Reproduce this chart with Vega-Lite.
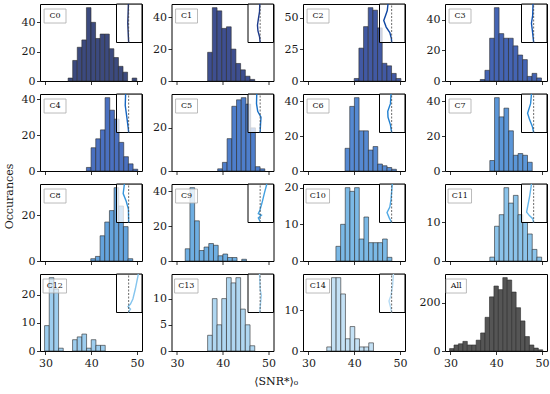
{
"$schema": "https://vega.github.io/schema/vega-lite/v6.json",
"padding": {"left": 3, "top": 0, "right": 2, "bottom": 2},
"title": {"text": "⟨SNR*⟩₀", "orient": "bottom", "anchor": "middle", "font": "DejaVu Serif", "fontSize": 11, "fontWeight": "normal", "color": "#111111", "offset": 7},
"datasets": {
"h": [
{"p":"C0","a":34.95,"b":35.95,"n":2},{"p":"C0","a":35.95,"b":36.95,"n":14},{"p":"C0","a":36.95,"b":37.95,"n":23},{"p":"C0","a":37.95,"b":38.95,"n":28},{"p":"C0","a":38.95,"b":39.95,"n":50},{"p":"C0","a":39.95,"b":40.95,"n":40},{"p":"C0","a":40.95,"b":41.95,"n":29},{"p":"C0","a":41.95,"b":42.95,"n":32},{"p":"C0","a":42.95,"b":43.95,"n":32},{"p":"C0","a":43.95,"b":44.95,"n":22},{"p":"C0","a":44.95,"b":45.95,"n":16},{"p":"C0","a":45.95,"b":46.95,"n":10},{"p":"C0","a":46.95,"b":47.95,"n":6},{"p":"C0","a":48.95,"b":49.95,"n":2},
{"p":"C1","a":36.7,"b":37.73,"n":18},{"p":"C1","a":37.73,"b":38.76,"n":46},{"p":"C1","a":38.76,"b":39.79,"n":44},{"p":"C1","a":39.79,"b":40.82,"n":33},{"p":"C1","a":40.82,"b":41.85,"n":34},{"p":"C1","a":41.85,"b":42.88,"n":20},{"p":"C1","a":42.88,"b":43.91,"n":11},{"p":"C1","a":43.91,"b":44.94,"n":7},{"p":"C1","a":44.94,"b":45.97,"n":3},{"p":"C1","a":45.97,"b":47.0,"n":1},
{"p":"C2","a":40.0,"b":41.02,"n":2},{"p":"C2","a":41.02,"b":42.04,"n":26},{"p":"C2","a":42.04,"b":43.06,"n":43},{"p":"C2","a":43.06,"b":44.08,"n":58},{"p":"C2","a":44.08,"b":45.1,"n":56},{"p":"C2","a":45.1,"b":46.12,"n":42},{"p":"C2","a":46.12,"b":47.14,"n":14},{"p":"C2","a":47.14,"b":48.16,"n":12},{"p":"C2","a":48.16,"b":49.18,"n":6},{"p":"C2","a":49.18,"b":50.2,"n":2},
{"p":"C3","a":36.5,"b":37.53,"n":1},{"p":"C3","a":37.53,"b":38.56,"n":7},{"p":"C3","a":38.56,"b":39.59,"n":28},{"p":"C3","a":39.59,"b":40.62,"n":48},{"p":"C3","a":40.62,"b":41.65,"n":31},{"p":"C3","a":41.65,"b":42.68,"n":28},{"p":"C3","a":42.68,"b":43.71,"n":28},{"p":"C3","a":43.71,"b":44.74,"n":23},{"p":"C3","a":44.74,"b":45.77,"n":17},{"p":"C3","a":45.77,"b":46.8,"n":14},{"p":"C3","a":46.8,"b":47.83,"n":3},{"p":"C3","a":47.83,"b":48.86,"n":5},{"p":"C3","a":48.86,"b":49.89,"n":2},
{"p":"C4","a":38.95,"b":39.97,"n":2},{"p":"C4","a":39.97,"b":40.99,"n":13},{"p":"C4","a":40.99,"b":42.01,"n":18},{"p":"C4","a":42.01,"b":43.03,"n":23},{"p":"C4","a":43.03,"b":44.05,"n":41},{"p":"C4","a":44.05,"b":45.07,"n":34},{"p":"C4","a":45.07,"b":46.09,"n":29},{"p":"C4","a":46.09,"b":47.11,"n":16},{"p":"C4","a":47.11,"b":48.13,"n":8},{"p":"C4","a":48.13,"b":49.15,"n":4},{"p":"C4","a":49.15,"b":50.17,"n":1},
{"p":"C5","a":38.9,"b":39.93,"n":1},{"p":"C5","a":39.93,"b":40.96,"n":4},{"p":"C5","a":40.96,"b":41.99,"n":15},{"p":"C5","a":41.99,"b":43.02,"n":30},{"p":"C5","a":43.02,"b":44.05,"n":33},{"p":"C5","a":44.05,"b":45.08,"n":34},{"p":"C5","a":45.08,"b":46.11,"n":31},{"p":"C5","a":46.11,"b":47.14,"n":20},{"p":"C5","a":47.14,"b":48.17,"n":2},{"p":"C5","a":48.17,"b":49.2,"n":1},
{"p":"C6","a":38.0,"b":39.02,"n":13},{"p":"C6","a":39.02,"b":40.04,"n":37},{"p":"C6","a":40.04,"b":41.06,"n":42},{"p":"C6","a":41.06,"b":42.08,"n":23},{"p":"C6","a":42.08,"b":43.1,"n":23},{"p":"C6","a":43.1,"b":44.12,"n":12},{"p":"C6","a":44.12,"b":45.14,"n":14},{"p":"C6","a":45.14,"b":46.16,"n":4},{"p":"C6","a":46.16,"b":47.18,"n":3},{"p":"C6","a":47.18,"b":48.2,"n":2},{"p":"C6","a":48.2,"b":49.22,"n":1},
{"p":"C7","a":38.6,"b":39.63,"n":6},{"p":"C7","a":39.63,"b":40.66,"n":42},{"p":"C7","a":40.66,"b":41.69,"n":31},{"p":"C7","a":41.69,"b":42.72,"n":36},{"p":"C7","a":42.72,"b":43.75,"n":23},{"p":"C7","a":43.75,"b":44.78,"n":9},{"p":"C7","a":44.78,"b":45.81,"n":10},{"p":"C7","a":45.81,"b":46.84,"n":9},{"p":"C7","a":46.84,"b":47.87,"n":5},
{"p":"C8","a":39.9,"b":40.92,"n":1},{"p":"C8","a":40.92,"b":41.94,"n":2},{"p":"C8","a":41.94,"b":42.96,"n":11},{"p":"C8","a":42.96,"b":43.98,"n":17},{"p":"C8","a":43.98,"b":45.0,"n":22},{"p":"C8","a":45.0,"b":46.02,"n":32},{"p":"C8","a":46.02,"b":47.04,"n":24},{"p":"C8","a":47.04,"b":48.06,"n":15},{"p":"C8","a":48.06,"b":49.08,"n":1},
{"p":"C9","a":31.8,"b":32.83,"n":7},{"p":"C9","a":32.83,"b":33.86,"n":42},{"p":"C9","a":33.86,"b":34.89,"n":23},{"p":"C9","a":34.89,"b":35.92,"n":6},{"p":"C9","a":35.92,"b":36.95,"n":8},{"p":"C9","a":36.95,"b":37.98,"n":10},{"p":"C9","a":37.98,"b":39.01,"n":9},{"p":"C9","a":39.01,"b":40.04,"n":3},{"p":"C9","a":40.04,"b":41.07,"n":4},{"p":"C9","a":41.07,"b":42.1,"n":2},{"p":"C9","a":42.1,"b":43.13,"n":2},{"p":"C9","a":44.16,"b":45.19,"n":1},
{"p":"C10","a":36.0,"b":37.02,"n":4},{"p":"C10","a":37.02,"b":38.04,"n":10},{"p":"C10","a":38.04,"b":39.06,"n":20},{"p":"C10","a":39.06,"b":40.08,"n":19},{"p":"C10","a":40.08,"b":41.1,"n":20},{"p":"C10","a":41.1,"b":42.12,"n":6},{"p":"C10","a":42.12,"b":43.14,"n":12},{"p":"C10","a":43.14,"b":44.16,"n":5},{"p":"C10","a":44.16,"b":45.18,"n":5},{"p":"C10","a":45.18,"b":46.2,"n":5},{"p":"C10","a":46.2,"b":47.22,"n":6},{"p":"C10","a":47.22,"b":48.24,"n":1},
{"p":"C11","a":38.6,"b":39.63,"n":1},{"p":"C11","a":39.63,"b":40.66,"n":9},{"p":"C11","a":40.66,"b":41.69,"n":12},{"p":"C11","a":41.69,"b":42.72,"n":19},{"p":"C11","a":42.72,"b":43.75,"n":15},{"p":"C11","a":43.75,"b":44.78,"n":17},{"p":"C11","a":44.78,"b":45.81,"n":12},{"p":"C11","a":45.81,"b":46.84,"n":10},{"p":"C11","a":46.84,"b":47.87,"n":7},{"p":"C11","a":47.87,"b":48.9,"n":3},{"p":"C11","a":48.9,"b":49.93,"n":1},
{"p":"C12","a":29.8,"b":30.82,"n":9},{"p":"C12","a":30.82,"b":31.84,"n":26},{"p":"C12","a":31.84,"b":32.86,"n":22},{"p":"C12","a":32.86,"b":33.88,"n":1},{"p":"C12","a":35.92,"b":36.94,"n":4},{"p":"C12","a":36.94,"b":37.96,"n":5},{"p":"C12","a":37.96,"b":38.98,"n":6},{"p":"C12","a":38.98,"b":40.0,"n":1},{"p":"C12","a":40.0,"b":41.02,"n":4},{"p":"C12","a":41.02,"b":42.04,"n":2},{"p":"C12","a":42.04,"b":43.06,"n":2},
{"p":"C13","a":36.7,"b":37.73,"n":3},{"p":"C13","a":37.73,"b":38.76,"n":10},{"p":"C13","a":38.76,"b":39.79,"n":5},{"p":"C13","a":39.79,"b":40.82,"n":10},{"p":"C13","a":40.82,"b":41.85,"n":14},{"p":"C13","a":41.85,"b":42.88,"n":13},{"p":"C13","a":42.88,"b":43.91,"n":14},{"p":"C13","a":43.91,"b":44.94,"n":8},{"p":"C13","a":44.94,"b":45.97,"n":5},{"p":"C13","a":45.97,"b":47.0,"n":1},
{"p":"C14","a":34.0,"b":35.02,"n":1},{"p":"C14","a":35.02,"b":36.04,"n":18},{"p":"C14","a":36.04,"b":37.06,"n":18},{"p":"C14","a":37.06,"b":38.08,"n":14},{"p":"C14","a":38.08,"b":39.1,"n":3},{"p":"C14","a":39.1,"b":40.12,"n":6},{"p":"C14","a":40.12,"b":41.14,"n":3},{"p":"C14","a":41.14,"b":42.16,"n":1},{"p":"C14","a":42.16,"b":43.18,"n":1},{"p":"C14","a":43.18,"b":44.2,"n":2},
{"p":"All","a":29.8,"b":30.77,"n":10},{"p":"All","a":30.77,"b":31.74,"n":25},{"p":"All","a":31.74,"b":32.71,"n":30},{"p":"All","a":32.71,"b":33.68,"n":40},{"p":"All","a":33.68,"b":34.65,"n":25},{"p":"All","a":34.65,"b":35.62,"n":25},{"p":"All","a":35.62,"b":36.59,"n":45},{"p":"All","a":36.59,"b":37.56,"n":75},{"p":"All","a":37.56,"b":38.53,"n":140},{"p":"All","a":38.53,"b":39.5,"n":225},{"p":"All","a":39.5,"b":40.47,"n":270},{"p":"All","a":40.47,"b":41.44,"n":255},{"p":"All","a":41.44,"b":42.41,"n":305},{"p":"All","a":42.41,"b":43.38,"n":295},{"p":"All","a":43.38,"b":44.35,"n":245},{"p":"All","a":44.35,"b":45.32,"n":180},{"p":"All","a":45.32,"b":46.29,"n":125},{"p":"All","a":46.29,"b":47.26,"n":60},{"p":"All","a":47.26,"b":48.23,"n":25},{"p":"All","a":48.23,"b":49.2,"n":12},{"p":"All","a":49.2,"b":50.17,"n":5}
],
"ins": [
{"p":"C0","t":0,"v":1.0},{"p":"C0","t":0.2,"v":0.97},{"p":"C0","t":0.5,"v":0.93},{"p":"C0","t":0.8,"v":0.96},{"p":"C0","t":1,"v":0.98},
{"p":"C1","t":0,"v":1.0},{"p":"C1","t":0.15,"v":0.95},{"p":"C1","t":0.3,"v":0.82},{"p":"C1","t":0.45,"v":0.78},{"p":"C1","t":0.6,"v":0.85},{"p":"C1","t":0.8,"v":0.95},{"p":"C1","t":1,"v":0.97},
{"p":"C2","t":0,"v":1.0},{"p":"C2","t":0.1,"v":0.98},{"p":"C2","t":0.26,"v":0.85},{"p":"C2","t":0.4,"v":0.55},{"p":"C2","t":0.57,"v":0.35},{"p":"C2","t":0.7,"v":0.5},{"p":"C2","t":0.83,"v":0.64},{"p":"C2","t":1,"v":0.7},
{"p":"C3","t":0,"v":1.0},{"p":"C3","t":0.3,"v":0.9},{"p":"C3","t":0.5,"v":0.82},{"p":"C3","t":0.7,"v":0.92},{"p":"C3","t":1,"v":0.95},
{"p":"C4","t":0,"v":1.0},{"p":"C4","t":0.1,"v":0.97},{"p":"C4","t":0.4,"v":0.85},{"p":"C4","t":0.7,"v":0.72},{"p":"C4","t":1,"v":0.75},
{"p":"C5","t":0,"v":1.0},{"p":"C5","t":0.2,"v":1.03},{"p":"C5","t":0.4,"v":1.07},{"p":"C5","t":0.55,"v":0.8},{"p":"C5","t":0.75,"v":0.7},{"p":"C5","t":1,"v":0.72},
{"p":"C6","t":0,"v":1.0},{"p":"C6","t":0.2,"v":0.9},{"p":"C6","t":0.4,"v":0.7},{"p":"C6","t":0.55,"v":0.68},{"p":"C6","t":0.75,"v":0.9},{"p":"C6","t":1,"v":0.95},
{"p":"C7","t":0,"v":1.0},{"p":"C7","t":0.15,"v":0.9},{"p":"C7","t":0.35,"v":0.65},{"p":"C7","t":0.5,"v":0.5},{"p":"C7","t":0.75,"v":0.75},{"p":"C7","t":1,"v":0.82},
{"p":"C8","t":0,"v":1.0},{"p":"C8","t":0.35,"v":0.98},{"p":"C8","t":0.55,"v":0.8},{"p":"C8","t":0.75,"v":0.55},{"p":"C8","t":1,"v":0.65},
{"p":"C9","t":0.03,"v":1.0},{"p":"C9","t":0.12,"v":0.85},{"p":"C9","t":0.19,"v":1.1},{"p":"C9","t":0.23,"v":0.85},{"p":"C9","t":0.32,"v":0.98},{"p":"C9","t":0.53,"v":1.17},{"p":"C9","t":0.79,"v":1.37},{"p":"C9","t":1,"v":1.55},
{"p":"C10","t":0,"v":1.0},{"p":"C10","t":0.12,"v":0.8},{"p":"C10","t":0.26,"v":0.62},{"p":"C10","t":0.4,"v":0.85},{"p":"C10","t":0.6,"v":0.95},{"p":"C10","t":1,"v":1.05},
{"p":"C11","t":0,"v":1.0},{"p":"C11","t":0.1,"v":0.92},{"p":"C11","t":0.18,"v":0.65},{"p":"C11","t":0.27,"v":0.42},{"p":"C11","t":0.45,"v":0.53},{"p":"C11","t":0.7,"v":0.68},{"p":"C11","t":1,"v":0.82},
{"p":"C12","t":0,"v":0.97},{"p":"C12","t":0.09,"v":1.15},{"p":"C12","t":0.15,"v":0.95},{"p":"C12","t":0.22,"v":1.15},{"p":"C12","t":0.35,"v":1.35},{"p":"C12","t":0.61,"v":1.55},{"p":"C12","t":1,"v":1.8},
{"p":"C13","t":0,"v":0.97},{"p":"C13","t":0.3,"v":1.05},{"p":"C13","t":0.45,"v":1.1},{"p":"C13","t":0.6,"v":1.0},{"p":"C13","t":1,"v":0.95},
{"p":"C14","t":0,"v":1.0},{"p":"C14","t":0.15,"v":0.9},{"p":"C14","t":0.3,"v":0.78},{"p":"C14","t":0.45,"v":0.95},{"p":"C14","t":0.7,"v":1.08},{"p":"C14","t":1,"v":1.15}
]
},
"spacing": 3,
"hconcat": [
{"width": 1, "height": 347, "view": {"stroke": null}, "data": {"values": [{}]}, "mark": {"type": "rule", "opacity": 0}, "encoding": {"y": {"datum": 0, "type": "quantitative", "scale": {"domain": [0, 1]}, "axis": {"title": "Occurances", "labels": false, "ticks": false, "domain": false, "grid": false, "minExtent": 0, "maxExtent": 0, "titlePadding": 2, "titleY": 192}}}},
{"spacing": 10, "hconcat": [
{"columns": 3, "bounds": "flush", "spacing": {"row": 13, "column": 29.5}, "concat": [
{"width":102,"height":77,"resolve":{"scale":{"x":"independent","y":"independent"}},"layer":[
{"data":{"name":"h"},"transform":[{"filter":"datum.p=='C0'"}],"mark":{"type":"rect","fill":"#3c4a7e","stroke":"#2a2a2a","strokeWidth":0.6},"encoding":{"x":{"field":"a","type":"quantitative","scale":{"domain":[28.8,51.1],"nice":false,"zero":false},"axis":{"values":[30,40,50],"labels":false,"title":null}},"x2":{"field":"b"},"y":{"field":"n","type":"quantitative","scale":{"domain":[0,52.5],"nice":false},"axis":{"values":[0,20,40],"title":null}}}},
{"data":{"values":[{"p":"C0"}]},"layer":[
{"mark":{"type":"rect","fill":"white","fillOpacity":0.8,"stroke":"#aaaaaa","strokeWidth":0.8},"encoding":{"x":{"datum":0.04,"type":"quantitative","scale":{"domain":[0,1],"nice":false},"axis":null},"x2":{"datum":0.255},"y":{"datum":0.935,"type":"quantitative","scale":{"domain":[0,1],"nice":false},"axis":null},"y2":{"datum":0.753}}},
{"mark":{"type":"text","font":"DejaVu Serif","fontSize":8,"color":"#111111"},"encoding":{"x":{"datum":0.147,"type":"quantitative"},"y":{"datum":0.844,"type":"quantitative"},"text":{"field":"p"}}}]},
{"layer":[
{"data":{"values":[{}]},"mark":{"type":"rect","fill":"white","fillOpacity":0.75,"stroke":"black","strokeWidth":1},"encoding":{"x":{"datum":0,"type":"quantitative","scale":{"domain":[0,2.1],"range":[76.5,102],"nice":false,"zero":false},"axis":null},"x2":{"datum":2.1},"y":{"datum":0,"type":"quantitative","scale":{"domain":[0,1],"range":[38.5,0],"nice":false},"axis":null},"y2":{"datum":1}}},
{"data":{"name":"ins"},"transform":[{"filter":"datum.p=='C0'"}],"mark":{"type":"line","stroke":"#1b2e6e","strokeWidth":1.4},"encoding":{"x":{"field":"v","type":"quantitative"},"y":{"field":"t","type":"quantitative"},"order":{"field":"t"}}},
{"data":{"values":[{}]},"mark":{"type":"rule","stroke":"#444444","strokeWidth":0.8,"strokeDash":[2,1.5]},"encoding":{"x":{"datum":1,"type":"quantitative"},"y":{"datum":0,"type":"quantitative"},"y2":{"datum":1}}}]}
]},
{"width":102,"height":77,"resolve":{"scale":{"x":"independent","y":"independent"}},"layer":[
{"data":{"name":"h"},"transform":[{"filter":"datum.p=='C1'"}],"mark":{"type":"rect","fill":"#3e4f90","stroke":"#2a2a2a","strokeWidth":0.6},"encoding":{"x":{"field":"a","type":"quantitative","scale":{"domain":[28.8,51.1],"nice":false,"zero":false},"axis":{"values":[30,40,50],"labels":false,"title":null}},"x2":{"field":"b"},"y":{"field":"n","type":"quantitative","scale":{"domain":[0,48.3],"nice":false},"axis":{"values":[0,20,40],"title":null}}}},
{"data":{"values":[{"p":"C1"}]},"layer":[
{"mark":{"type":"rect","fill":"white","fillOpacity":0.8,"stroke":"#aaaaaa","strokeWidth":0.8},"encoding":{"x":{"datum":0.04,"type":"quantitative","scale":{"domain":[0,1],"nice":false},"axis":null},"x2":{"datum":0.255},"y":{"datum":0.935,"type":"quantitative","scale":{"domain":[0,1],"nice":false},"axis":null},"y2":{"datum":0.753}}},
{"mark":{"type":"text","font":"DejaVu Serif","fontSize":8,"color":"#111111"},"encoding":{"x":{"datum":0.147,"type":"quantitative"},"y":{"datum":0.844,"type":"quantitative"},"text":{"field":"p"}}}]},
{"layer":[
{"data":{"values":[{}]},"mark":{"type":"rect","fill":"white","fillOpacity":0.75,"stroke":"black","strokeWidth":1},"encoding":{"x":{"datum":0,"type":"quantitative","scale":{"domain":[0,2.1],"range":[76.5,102],"nice":false,"zero":false},"axis":null},"x2":{"datum":2.1},"y":{"datum":0,"type":"quantitative","scale":{"domain":[0,1],"range":[38.5,0],"nice":false},"axis":null},"y2":{"datum":1}}},
{"data":{"name":"ins"},"transform":[{"filter":"datum.p=='C1'"}],"mark":{"type":"line","stroke":"#1c3a8c","strokeWidth":1.4},"encoding":{"x":{"field":"v","type":"quantitative"},"y":{"field":"t","type":"quantitative"},"order":{"field":"t"}}},
{"data":{"values":[{}]},"mark":{"type":"rule","stroke":"#444444","strokeWidth":0.8,"strokeDash":[2,1.5]},"encoding":{"x":{"datum":1,"type":"quantitative"},"y":{"datum":0,"type":"quantitative"},"y2":{"datum":1}}}]}
]},
{"width":102,"height":77,"resolve":{"scale":{"x":"independent","y":"independent"}},"layer":[
{"data":{"name":"h"},"transform":[{"filter":"datum.p=='C2'"}],"mark":{"type":"rect","fill":"#4159a3","stroke":"#2a2a2a","strokeWidth":0.6},"encoding":{"x":{"field":"a","type":"quantitative","scale":{"domain":[28.8,51.1],"nice":false,"zero":false},"axis":{"values":[30,40,50],"labels":false,"title":null}},"x2":{"field":"b"},"y":{"field":"n","type":"quantitative","scale":{"domain":[0,60.9],"nice":false},"axis":{"values":[0,25,50],"title":null}}}},
{"data":{"values":[{"p":"C2"}]},"layer":[
{"mark":{"type":"rect","fill":"white","fillOpacity":0.8,"stroke":"#aaaaaa","strokeWidth":0.8},"encoding":{"x":{"datum":0.04,"type":"quantitative","scale":{"domain":[0,1],"nice":false},"axis":null},"x2":{"datum":0.255},"y":{"datum":0.935,"type":"quantitative","scale":{"domain":[0,1],"nice":false},"axis":null},"y2":{"datum":0.753}}},
{"mark":{"type":"text","font":"DejaVu Serif","fontSize":8,"color":"#111111"},"encoding":{"x":{"datum":0.147,"type":"quantitative"},"y":{"datum":0.844,"type":"quantitative"},"text":{"field":"p"}}}]},
{"layer":[
{"data":{"values":[{}]},"mark":{"type":"rect","fill":"white","fillOpacity":0.75,"stroke":"black","strokeWidth":1},"encoding":{"x":{"datum":0,"type":"quantitative","scale":{"domain":[0,2.1],"range":[76.5,102],"nice":false,"zero":false},"axis":null},"x2":{"datum":2.1},"y":{"datum":0,"type":"quantitative","scale":{"domain":[0,1],"range":[38.5,0],"nice":false},"axis":null},"y2":{"datum":1}}},
{"data":{"name":"ins"},"transform":[{"filter":"datum.p=='C2'"}],"mark":{"type":"line","stroke":"#0f47a3","strokeWidth":1.4},"encoding":{"x":{"field":"v","type":"quantitative"},"y":{"field":"t","type":"quantitative"},"order":{"field":"t"}}},
{"data":{"values":[{}]},"mark":{"type":"rule","stroke":"#444444","strokeWidth":0.8,"strokeDash":[2,1.5]},"encoding":{"x":{"datum":1,"type":"quantitative"},"y":{"datum":0,"type":"quantitative"},"y2":{"datum":1}}}]}
]},
{"width":102,"height":77,"resolve":{"scale":{"x":"independent","y":"independent"}},"layer":[
{"data":{"name":"h"},"transform":[{"filter":"datum.p=='C4'"}],"mark":{"type":"rect","fill":"#4a70c0","stroke":"#2a2a2a","strokeWidth":0.6},"encoding":{"x":{"field":"a","type":"quantitative","scale":{"domain":[28.8,51.1],"nice":false,"zero":false},"axis":{"values":[30,40,50],"labels":false,"title":null}},"x2":{"field":"b"},"y":{"field":"n","type":"quantitative","scale":{"domain":[0,43.05],"nice":false},"axis":{"values":[0,20,40],"title":null}}}},
{"data":{"values":[{"p":"C4"}]},"layer":[
{"mark":{"type":"rect","fill":"white","fillOpacity":0.8,"stroke":"#aaaaaa","strokeWidth":0.8},"encoding":{"x":{"datum":0.04,"type":"quantitative","scale":{"domain":[0,1],"nice":false},"axis":null},"x2":{"datum":0.255},"y":{"datum":0.935,"type":"quantitative","scale":{"domain":[0,1],"nice":false},"axis":null},"y2":{"datum":0.753}}},
{"mark":{"type":"text","font":"DejaVu Serif","fontSize":8,"color":"#111111"},"encoding":{"x":{"datum":0.147,"type":"quantitative"},"y":{"datum":0.844,"type":"quantitative"},"text":{"field":"p"}}}]},
{"layer":[
{"data":{"values":[{}]},"mark":{"type":"rect","fill":"white","fillOpacity":0.75,"stroke":"black","strokeWidth":1},"encoding":{"x":{"datum":0,"type":"quantitative","scale":{"domain":[0,2.1],"range":[76.5,102],"nice":false,"zero":false},"axis":null},"x2":{"datum":2.1},"y":{"datum":0,"type":"quantitative","scale":{"domain":[0,1],"range":[38.5,0],"nice":false},"axis":null},"y2":{"datum":1}}},
{"data":{"name":"ins"},"transform":[{"filter":"datum.p=='C4'"}],"mark":{"type":"line","stroke":"#1565c0","strokeWidth":1.4},"encoding":{"x":{"field":"v","type":"quantitative"},"y":{"field":"t","type":"quantitative"},"order":{"field":"t"}}},
{"data":{"values":[{}]},"mark":{"type":"rule","stroke":"#444444","strokeWidth":0.8,"strokeDash":[2,1.5]},"encoding":{"x":{"datum":1,"type":"quantitative"},"y":{"datum":0,"type":"quantitative"},"y2":{"datum":1}}}]}
]},
{"width":102,"height":77,"resolve":{"scale":{"x":"independent","y":"independent"}},"layer":[
{"data":{"name":"h"},"transform":[{"filter":"datum.p=='C5'"}],"mark":{"type":"rect","fill":"#4e7ecb","stroke":"#2a2a2a","strokeWidth":0.6},"encoding":{"x":{"field":"a","type":"quantitative","scale":{"domain":[28.8,51.1],"nice":false,"zero":false},"axis":{"values":[30,40,50],"labels":false,"title":null}},"x2":{"field":"b"},"y":{"field":"n","type":"quantitative","scale":{"domain":[0,35.7],"nice":false},"axis":{"values":[0,20],"title":null}}}},
{"data":{"values":[{"p":"C5"}]},"layer":[
{"mark":{"type":"rect","fill":"white","fillOpacity":0.8,"stroke":"#aaaaaa","strokeWidth":0.8},"encoding":{"x":{"datum":0.04,"type":"quantitative","scale":{"domain":[0,1],"nice":false},"axis":null},"x2":{"datum":0.255},"y":{"datum":0.935,"type":"quantitative","scale":{"domain":[0,1],"nice":false},"axis":null},"y2":{"datum":0.753}}},
{"mark":{"type":"text","font":"DejaVu Serif","fontSize":8,"color":"#111111"},"encoding":{"x":{"datum":0.147,"type":"quantitative"},"y":{"datum":0.844,"type":"quantitative"},"text":{"field":"p"}}}]},
{"layer":[
{"data":{"values":[{}]},"mark":{"type":"rect","fill":"white","fillOpacity":0.75,"stroke":"black","strokeWidth":1},"encoding":{"x":{"datum":0,"type":"quantitative","scale":{"domain":[0,2.1],"range":[76.5,102],"nice":false,"zero":false},"axis":null},"x2":{"datum":2.1},"y":{"datum":0,"type":"quantitative","scale":{"domain":[0,1],"range":[38.5,0],"nice":false},"axis":null},"y2":{"datum":1}}},
{"data":{"name":"ins"},"transform":[{"filter":"datum.p=='C5'"}],"mark":{"type":"line","stroke":"#1a72c8","strokeWidth":1.4},"encoding":{"x":{"field":"v","type":"quantitative"},"y":{"field":"t","type":"quantitative"},"order":{"field":"t"}}},
{"data":{"values":[{}]},"mark":{"type":"rule","stroke":"#444444","strokeWidth":0.8,"strokeDash":[2,1.5]},"encoding":{"x":{"datum":1,"type":"quantitative"},"y":{"datum":0,"type":"quantitative"},"y2":{"datum":1}}}]}
]},
{"width":102,"height":77,"resolve":{"scale":{"x":"independent","y":"independent"}},"layer":[
{"data":{"name":"h"},"transform":[{"filter":"datum.p=='C6'"}],"mark":{"type":"rect","fill":"#5589d2","stroke":"#2a2a2a","strokeWidth":0.6},"encoding":{"x":{"field":"a","type":"quantitative","scale":{"domain":[28.8,51.1],"nice":false,"zero":false},"axis":{"values":[30,40,50],"labels":false,"title":null}},"x2":{"field":"b"},"y":{"field":"n","type":"quantitative","scale":{"domain":[0,44.1],"nice":false},"axis":{"values":[0,20,40],"title":null}}}},
{"data":{"values":[{"p":"C6"}]},"layer":[
{"mark":{"type":"rect","fill":"white","fillOpacity":0.8,"stroke":"#aaaaaa","strokeWidth":0.8},"encoding":{"x":{"datum":0.04,"type":"quantitative","scale":{"domain":[0,1],"nice":false},"axis":null},"x2":{"datum":0.255},"y":{"datum":0.935,"type":"quantitative","scale":{"domain":[0,1],"nice":false},"axis":null},"y2":{"datum":0.753}}},
{"mark":{"type":"text","font":"DejaVu Serif","fontSize":8,"color":"#111111"},"encoding":{"x":{"datum":0.147,"type":"quantitative"},"y":{"datum":0.844,"type":"quantitative"},"text":{"field":"p"}}}]},
{"layer":[
{"data":{"values":[{}]},"mark":{"type":"rect","fill":"white","fillOpacity":0.75,"stroke":"black","strokeWidth":1},"encoding":{"x":{"datum":0,"type":"quantitative","scale":{"domain":[0,2.1],"range":[76.5,102],"nice":false,"zero":false},"axis":null},"x2":{"datum":2.1},"y":{"datum":0,"type":"quantitative","scale":{"domain":[0,1],"range":[38.5,0],"nice":false},"axis":null},"y2":{"datum":1}}},
{"data":{"name":"ins"},"transform":[{"filter":"datum.p=='C6'"}],"mark":{"type":"line","stroke":"#1f7fd0","strokeWidth":1.4},"encoding":{"x":{"field":"v","type":"quantitative"},"y":{"field":"t","type":"quantitative"},"order":{"field":"t"}}},
{"data":{"values":[{}]},"mark":{"type":"rule","stroke":"#444444","strokeWidth":0.8,"strokeDash":[2,1.5]},"encoding":{"x":{"datum":1,"type":"quantitative"},"y":{"datum":0,"type":"quantitative"},"y2":{"datum":1}}}]}
]},
{"width":102,"height":77,"resolve":{"scale":{"x":"independent","y":"independent"}},"layer":[
{"data":{"name":"h"},"transform":[{"filter":"datum.p=='C8'"}],"mark":{"type":"rect","fill":"#64a3dd","stroke":"#2a2a2a","strokeWidth":0.6},"encoding":{"x":{"field":"a","type":"quantitative","scale":{"domain":[28.8,51.1],"nice":false,"zero":false},"axis":{"values":[30,40,50],"labels":false,"title":null}},"x2":{"field":"b"},"y":{"field":"n","type":"quantitative","scale":{"domain":[0,33.6],"nice":false},"axis":{"values":[0,20],"title":null}}}},
{"data":{"values":[{"p":"C8"}]},"layer":[
{"mark":{"type":"rect","fill":"white","fillOpacity":0.8,"stroke":"#aaaaaa","strokeWidth":0.8},"encoding":{"x":{"datum":0.04,"type":"quantitative","scale":{"domain":[0,1],"nice":false},"axis":null},"x2":{"datum":0.255},"y":{"datum":0.935,"type":"quantitative","scale":{"domain":[0,1],"nice":false},"axis":null},"y2":{"datum":0.753}}},
{"mark":{"type":"text","font":"DejaVu Serif","fontSize":8,"color":"#111111"},"encoding":{"x":{"datum":0.147,"type":"quantitative"},"y":{"datum":0.844,"type":"quantitative"},"text":{"field":"p"}}}]},
{"layer":[
{"data":{"values":[{}]},"mark":{"type":"rect","fill":"white","fillOpacity":0.75,"stroke":"black","strokeWidth":1},"encoding":{"x":{"datum":0,"type":"quantitative","scale":{"domain":[0,2.1],"range":[76.5,102],"nice":false,"zero":false},"axis":null},"x2":{"datum":2.1},"y":{"datum":0,"type":"quantitative","scale":{"domain":[0,1],"range":[38.5,0],"nice":false},"axis":null},"y2":{"datum":1}}},
{"data":{"name":"ins"},"transform":[{"filter":"datum.p=='C8'"}],"mark":{"type":"line","stroke":"#3595dc","strokeWidth":1.4},"encoding":{"x":{"field":"v","type":"quantitative"},"y":{"field":"t","type":"quantitative"},"order":{"field":"t"}}},
{"data":{"values":[{}]},"mark":{"type":"rule","stroke":"#444444","strokeWidth":0.8,"strokeDash":[2,1.5]},"encoding":{"x":{"datum":1,"type":"quantitative"},"y":{"datum":0,"type":"quantitative"},"y2":{"datum":1}}}]}
]},
{"width":102,"height":77,"resolve":{"scale":{"x":"independent","y":"independent"}},"layer":[
{"data":{"name":"h"},"transform":[{"filter":"datum.p=='C9'"}],"mark":{"type":"rect","fill":"#6eaee2","stroke":"#2a2a2a","strokeWidth":0.6},"encoding":{"x":{"field":"a","type":"quantitative","scale":{"domain":[28.8,51.1],"nice":false,"zero":false},"axis":{"values":[30,40,50],"labels":false,"title":null}},"x2":{"field":"b"},"y":{"field":"n","type":"quantitative","scale":{"domain":[0,44.1],"nice":false},"axis":{"values":[0,20,40],"title":null}}}},
{"data":{"values":[{"p":"C9"}]},"layer":[
{"mark":{"type":"rect","fill":"white","fillOpacity":0.8,"stroke":"#aaaaaa","strokeWidth":0.8},"encoding":{"x":{"datum":0.04,"type":"quantitative","scale":{"domain":[0,1],"nice":false},"axis":null},"x2":{"datum":0.255},"y":{"datum":0.935,"type":"quantitative","scale":{"domain":[0,1],"nice":false},"axis":null},"y2":{"datum":0.753}}},
{"mark":{"type":"text","font":"DejaVu Serif","fontSize":8,"color":"#111111"},"encoding":{"x":{"datum":0.147,"type":"quantitative"},"y":{"datum":0.844,"type":"quantitative"},"text":{"field":"p"}}}]},
{"layer":[
{"data":{"values":[{}]},"mark":{"type":"rect","fill":"white","fillOpacity":0.75,"stroke":"black","strokeWidth":1},"encoding":{"x":{"datum":0,"type":"quantitative","scale":{"domain":[0,2.1],"range":[76.5,102],"nice":false,"zero":false},"axis":null},"x2":{"datum":2.1},"y":{"datum":0,"type":"quantitative","scale":{"domain":[0,1],"range":[38.5,0],"nice":false},"axis":null},"y2":{"datum":1}}},
{"data":{"name":"ins"},"transform":[{"filter":"datum.p=='C9'"}],"mark":{"type":"line","stroke":"#41a0e1","strokeWidth":1.4},"encoding":{"x":{"field":"v","type":"quantitative"},"y":{"field":"t","type":"quantitative"},"order":{"field":"t"}}},
{"data":{"values":[{}]},"mark":{"type":"rule","stroke":"#444444","strokeWidth":0.8,"strokeDash":[2,1.5]},"encoding":{"x":{"datum":1,"type":"quantitative"},"y":{"datum":0,"type":"quantitative"},"y2":{"datum":1}}}]}
]},
{"width":102,"height":77,"resolve":{"scale":{"x":"independent","y":"independent"}},"layer":[
{"data":{"name":"h"},"transform":[{"filter":"datum.p=='C10'"}],"mark":{"type":"rect","fill":"#7bb9e6","stroke":"#2a2a2a","strokeWidth":0.6},"encoding":{"x":{"field":"a","type":"quantitative","scale":{"domain":[28.8,51.1],"nice":false,"zero":false},"axis":{"values":[30,40,50],"labels":false,"title":null}},"x2":{"field":"b"},"y":{"field":"n","type":"quantitative","scale":{"domain":[0,21],"nice":false},"axis":{"values":[0,10,20],"title":null}}}},
{"data":{"values":[{"p":"C10"}]},"layer":[
{"mark":{"type":"rect","fill":"white","fillOpacity":0.8,"stroke":"#aaaaaa","strokeWidth":0.8},"encoding":{"x":{"datum":0.03,"type":"quantitative","scale":{"domain":[0,1],"nice":false},"axis":null},"x2":{"datum":0.26},"y":{"datum":0.935,"type":"quantitative","scale":{"domain":[0,1],"nice":false},"axis":null},"y2":{"datum":0.753}}},
{"mark":{"type":"text","font":"DejaVu Serif","fontSize":8,"color":"#111111"},"encoding":{"x":{"datum":0.145,"type":"quantitative"},"y":{"datum":0.844,"type":"quantitative"},"text":{"field":"p"}}}]},
{"layer":[
{"data":{"values":[{}]},"mark":{"type":"rect","fill":"white","fillOpacity":0.75,"stroke":"black","strokeWidth":1},"encoding":{"x":{"datum":0,"type":"quantitative","scale":{"domain":[0,2.1],"range":[76.5,102],"nice":false,"zero":false},"axis":null},"x2":{"datum":2.1},"y":{"datum":0,"type":"quantitative","scale":{"domain":[0,1],"range":[38.5,0],"nice":false},"axis":null},"y2":{"datum":1}}},
{"data":{"name":"ins"},"transform":[{"filter":"datum.p=='C10'"}],"mark":{"type":"line","stroke":"#52aae5","strokeWidth":1.4},"encoding":{"x":{"field":"v","type":"quantitative"},"y":{"field":"t","type":"quantitative"},"order":{"field":"t"}}},
{"data":{"values":[{}]},"mark":{"type":"rule","stroke":"#444444","strokeWidth":0.8,"strokeDash":[2,1.5]},"encoding":{"x":{"datum":1,"type":"quantitative"},"y":{"datum":0,"type":"quantitative"},"y2":{"datum":1}}}]}
]},
{"width":102,"height":77,"resolve":{"scale":{"x":"independent","y":"independent"}},"layer":[
{"data":{"name":"h"},"transform":[{"filter":"datum.p=='C12'"}],"mark":{"type":"rect","fill":"#9dcdee","stroke":"#2a2a2a","strokeWidth":0.6},"encoding":{"x":{"field":"a","type":"quantitative","scale":{"domain":[28.8,51.1],"nice":false,"zero":false},"axis":{"values":[30,40,50],"title":null}},"x2":{"field":"b"},"y":{"field":"n","type":"quantitative","scale":{"domain":[0,27.3],"nice":false},"axis":{"values":[0,10,20],"title":null}}}},
{"data":{"values":[{"p":"C12"}]},"layer":[
{"mark":{"type":"rect","fill":"white","fillOpacity":0.6,"stroke":"#aaaaaa","strokeWidth":0.8},"encoding":{"x":{"datum":0.03,"type":"quantitative","scale":{"domain":[0,1],"nice":false},"axis":null},"x2":{"datum":0.26},"y":{"datum":0.935,"type":"quantitative","scale":{"domain":[0,1],"nice":false},"axis":null},"y2":{"datum":0.753}}},
{"mark":{"type":"text","font":"DejaVu Serif","fontSize":8,"color":"#111111"},"encoding":{"x":{"datum":0.145,"type":"quantitative"},"y":{"datum":0.844,"type":"quantitative"},"text":{"field":"p"}}}]},
{"layer":[
{"data":{"values":[{}]},"mark":{"type":"rect","fill":"white","fillOpacity":0.75,"stroke":"black","strokeWidth":1},"encoding":{"x":{"datum":0,"type":"quantitative","scale":{"domain":[0,2.1],"range":[76.5,102],"nice":false,"zero":false},"axis":null},"x2":{"datum":2.1},"y":{"datum":0,"type":"quantitative","scale":{"domain":[0,1],"range":[38.5,0],"nice":false},"axis":null},"y2":{"datum":1}}},
{"data":{"name":"ins"},"transform":[{"filter":"datum.p=='C12'"}],"mark":{"type":"line","stroke":"#85c5ee","strokeWidth":1.4},"encoding":{"x":{"field":"v","type":"quantitative"},"y":{"field":"t","type":"quantitative"},"order":{"field":"t"}}},
{"data":{"values":[{}]},"mark":{"type":"rule","stroke":"#444444","strokeWidth":0.8,"strokeDash":[2,1.5]},"encoding":{"x":{"datum":1,"type":"quantitative"},"y":{"datum":0,"type":"quantitative"},"y2":{"datum":1}}}]}
]},
{"width":102,"height":77,"resolve":{"scale":{"x":"independent","y":"independent"}},"layer":[
{"data":{"name":"h"},"transform":[{"filter":"datum.p=='C13'"}],"mark":{"type":"rect","fill":"#b0d7f1","stroke":"#2a2a2a","strokeWidth":0.6},"encoding":{"x":{"field":"a","type":"quantitative","scale":{"domain":[28.8,51.1],"nice":false,"zero":false},"axis":{"values":[30,40,50],"title":null}},"x2":{"field":"b"},"y":{"field":"n","type":"quantitative","scale":{"domain":[0,14.7],"nice":false},"axis":{"values":[0,5,10],"title":null}}}},
{"data":{"values":[{"p":"C13"}]},"layer":[
{"mark":{"type":"rect","fill":"white","fillOpacity":0.8,"stroke":"#aaaaaa","strokeWidth":0.8},"encoding":{"x":{"datum":0.03,"type":"quantitative","scale":{"domain":[0,1],"nice":false},"axis":null},"x2":{"datum":0.26},"y":{"datum":0.935,"type":"quantitative","scale":{"domain":[0,1],"nice":false},"axis":null},"y2":{"datum":0.753}}},
{"mark":{"type":"text","font":"DejaVu Serif","fontSize":8,"color":"#111111"},"encoding":{"x":{"datum":0.145,"type":"quantitative"},"y":{"datum":0.844,"type":"quantitative"},"text":{"field":"p"}}}]},
{"layer":[
{"data":{"values":[{}]},"mark":{"type":"rect","fill":"white","fillOpacity":0.75,"stroke":"black","strokeWidth":1},"encoding":{"x":{"datum":0,"type":"quantitative","scale":{"domain":[0,2.1],"range":[76.5,102],"nice":false,"zero":false},"axis":null},"x2":{"datum":2.1},"y":{"datum":0,"type":"quantitative","scale":{"domain":[0,1],"range":[38.5,0],"nice":false},"axis":null},"y2":{"datum":1}}},
{"data":{"name":"ins"},"transform":[{"filter":"datum.p=='C13'"}],"mark":{"type":"line","stroke":"#a2d3f2","strokeWidth":1.4},"encoding":{"x":{"field":"v","type":"quantitative"},"y":{"field":"t","type":"quantitative"},"order":{"field":"t"}}},
{"data":{"values":[{}]},"mark":{"type":"rule","stroke":"#444444","strokeWidth":0.8,"strokeDash":[2,1.5]},"encoding":{"x":{"datum":1,"type":"quantitative"},"y":{"datum":0,"type":"quantitative"},"y2":{"datum":1}}}]}
]},
{"width":102,"height":77,"resolve":{"scale":{"x":"independent","y":"independent"}},"layer":[
{"data":{"name":"h"},"transform":[{"filter":"datum.p=='C14'"}],"mark":{"type":"rect","fill":"#c4e1f5","stroke":"#2a2a2a","strokeWidth":0.6},"encoding":{"x":{"field":"a","type":"quantitative","scale":{"domain":[28.8,51.1],"nice":false,"zero":false},"axis":{"values":[30,40,50],"title":null}},"x2":{"field":"b"},"y":{"field":"n","type":"quantitative","scale":{"domain":[0,18.9],"nice":false},"axis":{"values":[0,10],"title":null}}}},
{"data":{"values":[{"p":"C14"}]},"layer":[
{"mark":{"type":"rect","fill":"white","fillOpacity":0.8,"stroke":"#aaaaaa","strokeWidth":0.8},"encoding":{"x":{"datum":0.03,"type":"quantitative","scale":{"domain":[0,1],"nice":false},"axis":null},"x2":{"datum":0.26},"y":{"datum":0.935,"type":"quantitative","scale":{"domain":[0,1],"nice":false},"axis":null},"y2":{"datum":0.753}}},
{"mark":{"type":"text","font":"DejaVu Serif","fontSize":8,"color":"#111111"},"encoding":{"x":{"datum":0.145,"type":"quantitative"},"y":{"datum":0.844,"type":"quantitative"},"text":{"field":"p"}}}]},
{"layer":[
{"data":{"values":[{}]},"mark":{"type":"rect","fill":"white","fillOpacity":0.75,"stroke":"black","strokeWidth":1},"encoding":{"x":{"datum":0,"type":"quantitative","scale":{"domain":[0,2.1],"range":[76.5,102],"nice":false,"zero":false},"axis":null},"x2":{"datum":2.1},"y":{"datum":0,"type":"quantitative","scale":{"domain":[0,1],"range":[38.5,0],"nice":false},"axis":null},"y2":{"datum":1}}},
{"data":{"name":"ins"},"transform":[{"filter":"datum.p=='C14'"}],"mark":{"type":"line","stroke":"#b6dcf5","strokeWidth":1.4},"encoding":{"x":{"field":"v","type":"quantitative"},"y":{"field":"t","type":"quantitative"},"order":{"field":"t"}}},
{"data":{"values":[{}]},"mark":{"type":"rule","stroke":"#444444","strokeWidth":0.8,"strokeDash":[2,1.5]},"encoding":{"x":{"datum":1,"type":"quantitative"},"y":{"datum":0,"type":"quantitative"},"y2":{"datum":1}}}]}
]}
]},
{"bounds": "flush", "spacing": 13, "vconcat": [
{"width":102,"height":77,"resolve":{"scale":{"x":"independent","y":"independent"}},"layer":[
{"data":{"name":"h"},"transform":[{"filter":"datum.p=='C3'"}],"mark":{"type":"rect","fill":"#4464b3","stroke":"#2a2a2a","strokeWidth":0.6},"encoding":{"x":{"field":"a","type":"quantitative","scale":{"domain":[28.8,51.1],"nice":false,"zero":false},"axis":{"values":[30,40,50],"labels":false,"title":null}},"x2":{"field":"b"},"y":{"field":"n","type":"quantitative","scale":{"domain":[0,50.4],"nice":false},"axis":{"values":[0,20,40],"title":null}}}},
{"data":{"values":[{"p":"C3"}]},"layer":[
{"mark":{"type":"rect","fill":"white","fillOpacity":0.8,"stroke":"#aaaaaa","strokeWidth":0.8},"encoding":{"x":{"datum":0.04,"type":"quantitative","scale":{"domain":[0,1],"nice":false},"axis":null},"x2":{"datum":0.255},"y":{"datum":0.935,"type":"quantitative","scale":{"domain":[0,1],"nice":false},"axis":null},"y2":{"datum":0.753}}},
{"mark":{"type":"text","font":"DejaVu Serif","fontSize":8,"color":"#111111"},"encoding":{"x":{"datum":0.147,"type":"quantitative"},"y":{"datum":0.844,"type":"quantitative"},"text":{"field":"p"}}}]},
{"layer":[
{"data":{"values":[{}]},"mark":{"type":"rect","fill":"white","fillOpacity":0.75,"stroke":"black","strokeWidth":1},"encoding":{"x":{"datum":0,"type":"quantitative","scale":{"domain":[0,2.1],"range":[76.5,102],"nice":false,"zero":false},"axis":null},"x2":{"datum":2.1},"y":{"datum":0,"type":"quantitative","scale":{"domain":[0,1],"range":[38.5,0],"nice":false},"axis":null},"y2":{"datum":1}}},
{"data":{"name":"ins"},"transform":[{"filter":"datum.p=='C3'"}],"mark":{"type":"line","stroke":"#1254b3","strokeWidth":1.4},"encoding":{"x":{"field":"v","type":"quantitative"},"y":{"field":"t","type":"quantitative"},"order":{"field":"t"}}},
{"data":{"values":[{}]},"mark":{"type":"rule","stroke":"#444444","strokeWidth":0.8,"strokeDash":[2,1.5]},"encoding":{"x":{"datum":1,"type":"quantitative"},"y":{"datum":0,"type":"quantitative"},"y2":{"datum":1}}}]}
]},
{"width":102,"height":77,"resolve":{"scale":{"x":"independent","y":"independent"}},"layer":[
{"data":{"name":"h"},"transform":[{"filter":"datum.p=='C7'"}],"mark":{"type":"rect","fill":"#5b96d8","stroke":"#2a2a2a","strokeWidth":0.6},"encoding":{"x":{"field":"a","type":"quantitative","scale":{"domain":[28.8,51.1],"nice":false,"zero":false},"axis":{"values":[30,40,50],"labels":false,"title":null}},"x2":{"field":"b"},"y":{"field":"n","type":"quantitative","scale":{"domain":[0,44.1],"nice":false},"axis":{"values":[0,20,40],"title":null}}}},
{"data":{"values":[{"p":"C7"}]},"layer":[
{"mark":{"type":"rect","fill":"white","fillOpacity":0.8,"stroke":"#aaaaaa","strokeWidth":0.8},"encoding":{"x":{"datum":0.04,"type":"quantitative","scale":{"domain":[0,1],"nice":false},"axis":null},"x2":{"datum":0.255},"y":{"datum":0.935,"type":"quantitative","scale":{"domain":[0,1],"nice":false},"axis":null},"y2":{"datum":0.753}}},
{"mark":{"type":"text","font":"DejaVu Serif","fontSize":8,"color":"#111111"},"encoding":{"x":{"datum":0.147,"type":"quantitative"},"y":{"datum":0.844,"type":"quantitative"},"text":{"field":"p"}}}]},
{"layer":[
{"data":{"values":[{}]},"mark":{"type":"rect","fill":"white","fillOpacity":0.75,"stroke":"black","strokeWidth":1},"encoding":{"x":{"datum":0,"type":"quantitative","scale":{"domain":[0,2.1],"range":[76.5,102],"nice":false,"zero":false},"axis":null},"x2":{"datum":2.1},"y":{"datum":0,"type":"quantitative","scale":{"domain":[0,1],"range":[38.5,0],"nice":false},"axis":null},"y2":{"datum":1}}},
{"data":{"name":"ins"},"transform":[{"filter":"datum.p=='C7'"}],"mark":{"type":"line","stroke":"#2a8ad6","strokeWidth":1.4},"encoding":{"x":{"field":"v","type":"quantitative"},"y":{"field":"t","type":"quantitative"},"order":{"field":"t"}}},
{"data":{"values":[{}]},"mark":{"type":"rule","stroke":"#444444","strokeWidth":0.8,"strokeDash":[2,1.5]},"encoding":{"x":{"datum":1,"type":"quantitative"},"y":{"datum":0,"type":"quantitative"},"y2":{"datum":1}}}]}
]},
{"width":102,"height":77,"resolve":{"scale":{"x":"independent","y":"independent"}},"layer":[
{"data":{"name":"h"},"transform":[{"filter":"datum.p=='C11'"}],"mark":{"type":"rect","fill":"#8bc3ea","stroke":"#2a2a2a","strokeWidth":0.6},"encoding":{"x":{"field":"a","type":"quantitative","scale":{"domain":[28.8,51.1],"nice":false,"zero":false},"axis":{"values":[30,40,50],"labels":false,"title":null}},"x2":{"field":"b"},"y":{"field":"n","type":"quantitative","scale":{"domain":[0,19.95],"nice":false},"axis":{"values":[0,10],"title":null}}}},
{"data":{"values":[{"p":"C11"}]},"layer":[
{"mark":{"type":"rect","fill":"white","fillOpacity":0.8,"stroke":"#aaaaaa","strokeWidth":0.8},"encoding":{"x":{"datum":0.03,"type":"quantitative","scale":{"domain":[0,1],"nice":false},"axis":null},"x2":{"datum":0.26},"y":{"datum":0.935,"type":"quantitative","scale":{"domain":[0,1],"nice":false},"axis":null},"y2":{"datum":0.753}}},
{"mark":{"type":"text","font":"DejaVu Serif","fontSize":8,"color":"#111111"},"encoding":{"x":{"datum":0.145,"type":"quantitative"},"y":{"datum":0.844,"type":"quantitative"},"text":{"field":"p"}}}]},
{"layer":[
{"data":{"values":[{}]},"mark":{"type":"rect","fill":"white","fillOpacity":0.75,"stroke":"black","strokeWidth":1},"encoding":{"x":{"datum":0,"type":"quantitative","scale":{"domain":[0,2.1],"range":[76.5,102],"nice":false,"zero":false},"axis":null},"x2":{"datum":2.1},"y":{"datum":0,"type":"quantitative","scale":{"domain":[0,1],"range":[38.5,0],"nice":false},"axis":null},"y2":{"datum":1}}},
{"data":{"name":"ins"},"transform":[{"filter":"datum.p=='C11'"}],"mark":{"type":"line","stroke":"#66b6ea","strokeWidth":1.4},"encoding":{"x":{"field":"v","type":"quantitative"},"y":{"field":"t","type":"quantitative"},"order":{"field":"t"}}},
{"data":{"values":[{}]},"mark":{"type":"rule","stroke":"#444444","strokeWidth":0.8,"strokeDash":[2,1.5]},"encoding":{"x":{"datum":1,"type":"quantitative"},"y":{"datum":0,"type":"quantitative"},"y2":{"datum":1}}}]}
]},
{"width":102,"height":77,"resolve":{"scale":{"x":"independent","y":"independent"}},"layer":[
{"data":{"name":"h"},"transform":[{"filter":"datum.p=='All'"}],"mark":{"type":"rect","fill":"#555555","stroke":"#2a2a2a","strokeWidth":0.6},"encoding":{"x":{"field":"a","type":"quantitative","scale":{"domain":[28.8,51.1],"nice":false,"zero":false},"axis":{"values":[30,40,50],"title":null}},"x2":{"field":"b"},"y":{"field":"n","type":"quantitative","scale":{"domain":[0,320],"nice":false},"axis":{"values":[0,200],"title":null}}}},
{"data":{"values":[{"p":"All"}]},"layer":[
{"mark":{"type":"rect","fill":"white","fillOpacity":0.8,"stroke":"#aaaaaa","strokeWidth":0.8},"encoding":{"x":{"datum":0.01,"type":"quantitative","scale":{"domain":[0,1],"nice":false},"axis":null},"x2":{"datum":0.21},"y":{"datum":0.935,"type":"quantitative","scale":{"domain":[0,1],"nice":false},"axis":null},"y2":{"datum":0.753}}},
{"mark":{"type":"text","font":"DejaVu Serif","fontSize":8,"color":"#111111"},"encoding":{"x":{"datum":0.11,"type":"quantitative"},"y":{"datum":0.844,"type":"quantitative"},"text":{"field":"p"}}}]}
]}
]}
]}
],
"config": {
"view": {"stroke": "#000000", "strokeWidth": 1},
"axis": {"domain": false, "grid": false, "ticks": true, "tickColor": "#000000", "tickSize": 3.5, "tickWidth": 0.8, "labelFont": "DejaVu Serif", "labelFontSize": 11, "labelColor": "#1a1a1a", "titleFont": "DejaVu Serif", "titleFontSize": 11, "titleFontWeight": "normal", "titleColor": "#1a1a1a"},
"axisX": {"labelPadding": 2.5, "labelFlush": false},
"axisY": {"labelPadding": 1.5, "minExtent": 19, "maxExtent": 19}
}
}
